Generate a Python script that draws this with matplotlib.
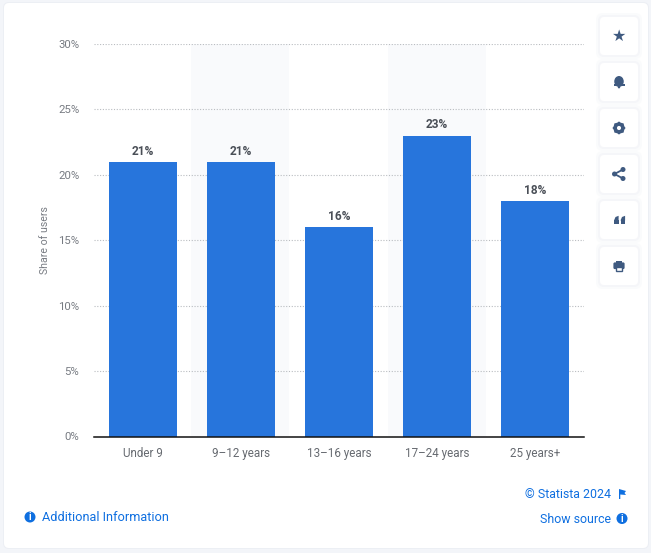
import matplotlib
matplotlib.use("Agg")
import matplotlib.pyplot as plt
from matplotlib.patches import FancyBboxPatch, Circle, Rectangle, Polygon, Wedge, Ellipse

categories = ["Under 9", "9-12 years", "13-16 years", "17-24 years", "25 years+"]
shares = [21, 21, 16, 23, 18]
y_ticks = [0, 5, 10, 15, 20, 25, 30]
y_label = "Share of users"
W, H = 651, 553
plt.rcParams['font.family'] = ['Roboto', 'DejaVu Sans']
BLUE = "#2775dc"
LINK = "#0f6fe0"
ICON = "#3f5a80"

fig = plt.figure(figsize=(W/100, H/100), dpi=100, facecolor="#f3f5f9")

# page overlay in pixel coordinates
bg = fig.add_axes([0, 0, 1, 1], zorder=0)
bg.set_xlim(0, W); bg.set_ylim(H, 0); bg.axis("off")
def card(x0, y0, x1, y1, r, ec="none", z=1, fc="white"):
    bg.add_patch(FancyBboxPatch((x0+r, y0+r), x1-x0-2*r, y1-y0-2*r,
                                boxstyle=f"round,pad={r},rounding_size={r}",
                                fc=fc, ec=ec, lw=0.8, zorder=z))
card(3, 2, 649, 549, 6, fc="#eceff4", z=0.5)
card(4, 3, 648, 548, 5)

centers = [36, 82, 128, 174, 220, 266]
for c in centers:
    card(596, c-23, 642, c+23, 7, z=1.6, fc="#fafbfc")
    card(598, c-21, 640, c+21, 6, z=1.7, fc="#f5f6f9")
    card(600, c-19, 638, c+19, 4, z=2.1)
cx = 619
kw = dict(fc=ICON, ec="none", zorder=3)
# star
bg.text(cx, 36, "★", ha="center", va="center", fontsize=11.5, color=ICON,
        family="DejaVu Sans", zorder=3)
# bell
bg.add_patch(Ellipse((cx, 81.5), 9.5, 11, **kw))
bg.add_patch(Rectangle((cx-5.5, 84), 11, 2, **kw))
bg.add_patch(Circle((cx, 87.2), 1.2, **kw))
# gear
bg.add_patch(Circle((cx, 128), 3.9, fc="white", ec=ICON, lw=2.6, zorder=3))
for a, b in [(0, 5.4), (3.8, 3.8), (5.4, 0), (3.8, -3.8), (0, -5.4), (-3.8, -3.8), (-5.4, 0), (-3.8, 3.8)]:
    bg.add_patch(Circle((cx+a, 128+b), 1.0, **kw))
# share
for p in [(614.5, 174), (623, 169.5), (623, 178.5)]:
    bg.add_patch(Circle(p, 2.5, **kw))
bg.plot([623, 614.5, 623], [169.5, 174, 178.5], color=ICON, lw=1.3, zorder=3)
# quote
for x in (614, 620.5):
    bg.add_patch(Rectangle((x, 220), 4.6, 4.2, **kw))
    bg.add_patch(Polygon([(x, 220.5), (x+1.5, 217), (x+4.6, 215.8), (x+4.6, 220.5)], **kw))
# print
bg.add_patch(FancyBboxPatch((614, 263), 10, 5.5, boxstyle="round,pad=0.6,rounding_size=1.4", **kw))
bg.add_patch(Rectangle((615.8, 260.5), 6.6, 3.5, **kw))
bg.add_patch(Rectangle((616.2, 266.5), 5.6, 4.6, fc="white", ec=ICON, lw=1, zorder=3.2))

# bands
for x0 in (191, 388):
    bg.add_patch(Rectangle((x0, 44), 98, 392, fc="#f9fafc", ec="none", zorder=1.5))

# footer
def info(x, y):
    bg.add_patch(Circle((x, y), 5.5, fc=LINK, ec="none", zorder=3))
    bg.text(x, y+0.2, "i", ha="center", va="center", color="white", fontsize=7,
            fontweight="bold", zorder=4)
info(30, 517)
bg.text(42, 517.5, "Additional Information", color=LINK, fontsize=9.2, va="center", ha="left", zorder=3)
bg.text(611, 494.5, "© Statista 2024", color=LINK, fontsize=8.9, va="center", ha="right", zorder=3)
bg.add_patch(Polygon([(619, 489), (626, 491), (624.5, 493), (626, 495), (620.3, 494.5), (620.3, 499), (619, 499)],
                     fc=LINK, ec="none", zorder=3))
bg.text(611, 519.5, "Show source", color=LINK, fontsize=8.9, va="center", ha="right", zorder=3)
info(622, 518.5)

# chart
L, R, T, B = 94, 584, 44, 436.5
ax = fig.add_axes([L/W, 1-B/H, (R-L)/W, (B-T)/H], zorder=2)
ax.patch.set_alpha(0)
pos = range(len(categories))
ax.set_xlim(-0.5, 4.5)
ax.set_ylim(0, 30)
ax.bar(pos, shares, width=0.694, color=BLUE, zorder=3)
for i, v in zip(pos, shares):
    ax.annotate(f"{v}%", (i, v), xytext=(0, 3), textcoords="offset points", ha="center", va="bottom",
                fontsize=8.6, fontweight="bold", color="#4a4f57", zorder=4)
ax.set_yticks(y_ticks)
ax.set_yticklabels([f"{t}%" for t in y_ticks], fontsize=8.2, color="#777b82")
ax.set_xticks(list(pos))
ax.set_xticklabels([c.replace("-", "\u2013") for c in categories], fontsize=8.4, color="#666a70")
ax.tick_params(axis="both", length=0)
ax.tick_params(axis="y", pad=10.5)
ax.tick_params(axis="x", pad=7.5)
ax.yaxis.grid(True, color="#b9bcc0", lw=0.8, ls=(0, (1, 1.5)), zorder=1)
ax.xaxis.grid(False)
for s in ("top", "left", "right"):
    ax.spines[s].set_visible(False)
ax.spines["bottom"].set_color("#111111")
ax.spines["bottom"].set_linewidth(1.1)
ax.spines["bottom"].set_zorder(5)
ax.set_axisbelow(True)
fig.text(44.5/W, 1-240.5/H, y_label, rotation=90, ha="center", va="center", fontsize=7.6, color="#777b82", zorder=5)

fig.savefig("out.png", dpi=100, facecolor=fig.get_facecolor())
